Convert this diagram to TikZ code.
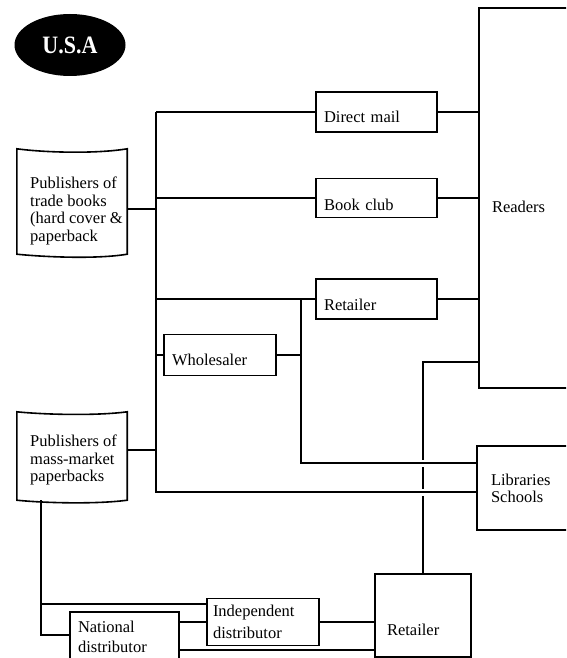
\documentclass[tikz,border=0pt]{standalone}
\usepackage{fontspec}
\setmainfont{Liberation Serif}
\usepackage{graphicx}
\usetikzlibrary{shapes.geometric}
\begin{document}
\begin{tikzpicture}[x=1pt,y=-1pt,
  ln/.style={line width=1.5pt},
  bx/.style={draw, line width=1.6pt, inner ysep=0pt, align=left, font=\fontsize{16.5}{17.5}\selectfont},
  txt/.style={inner sep=0pt, align=left, anchor=north west, font=\fontsize{16.5}{17.5}\selectfont},
  pagebox/.style={minimum width=110pt, inner sep=0pt},
  pageline/.style={line width=1.6pt}
]
\useasboundingbox (0,0) rectangle (566,658);
\clip (0,0) rectangle (566,658);

\node[ellipse, fill=black, minimum width=111pt, minimum height=62pt, inner sep=0pt, text=white,
  font=\bfseries\fontsize{25}{25}\selectfont] (usa) at (70,45) {\scalebox{0.88}[1]{U.S.A}};

% publishers (page-shaped boxes)
\node[pagebox, minimum height=105pt] (pubT) at (72,201.5) {};
\draw[pageline] (pubT.north west) .. controls +(30,4) and +(-30,5) .. (pubT.north east)
  -- (pubT.south east) .. controls +(-30,5) and +(30,3) .. (pubT.south west) -- cycle;
\node[txt] (pubTt) at (30,176.7) {Publishers of\\trade books\\(hard cover \&\\paperback};

\node[pagebox, minimum height=88pt] (pubM) at (72,456) {};
\draw[pageline] (pubM.north west) .. controls +(30,3) and +(-30,4) .. (pubM.north east)
  -- (pubM.south east) .. controls +(-30,4) and +(30,3) .. (pubM.south west) -- cycle;
\node[txt] (pubMt) at (30,434.7) {Publishers of\\mass-market\\paperbacks};

% channel boxes
\node[bx, minimum height=40pt, text width=105pt, inner xsep=8pt, text height=22pt, text depth=0pt] (dmail) at (376.5,112) {Direct mail};
\node[bx, minimum height=39pt, text width=105pt, inner xsep=8pt, text height=24pt, text depth=0pt] (bclub) at (376.5,198) {Book club};
\node[bx, minimum height=40pt, text width=105pt, inner xsep=8pt, text height=22pt, text depth=0pt] (ret1) at (376.5,299) {Retailer};
\node[bx, minimum height=41pt, text width=96pt, inner xsep=8pt, text height=20pt, text depth=0pt] (whole) at (220,355) {Wholesaler};
\node[bx, minimum height=380pt, text width=96pt, inner xsep=13pt, text height=28pt, text depth=0pt] (readers) at (540,198) {Readers};
\node[bx, minimum height=84pt, text width=95pt, inner xsep=14pt, font=\fontsize{16.5}{17}\selectfont] (lib) at (538.5,488) {Libraries\\Schools};
\node[bx, minimum height=83pt, text width=72pt, inner xsep=12pt, text height=39pt, text depth=0pt] (ret2) at (423,615.5) {Retailer};
\node[bx, minimum height=47pt, text width=100pt, inner xsep=6pt] (ind) at (263,622) {Independent\\[4pt]distributor};
\node[bx, minimum height=50pt, text width=93pt, inner xsep=8pt] (nat) at (124.5,637) {National\\[2.5pt]distributor};

% junction coordinates
\coordinate (tx) at (156,0);
\coordinate (jT) at (156,209);
\coordinate (jM) at (156,450);
\coordinate (jL) at (156,492);
\coordinate (vx) at (301,0);
\coordinate (jW) at (301,463);
\coordinate (jR) at (423,362);
\coordinate (lx) at (41,0);
\coordinate (jI) at (41,604);
\coordinate (jN) at (41,635);
\coordinate (jB) at (0,650);

% connectors
\draw[ln] (tx |- dmail.west) -- (jL) -- (lib.west |- jL);
\draw[ln] (tx |- dmail.west) -- (dmail.west);
\draw[ln] (tx |- bclub.west) -- (bclub.west);
\draw[ln] (tx |- ret1.west) -- (ret1.west);
\draw[ln] (tx |- whole.west) -- (whole.west);
\draw[ln] (pubT.east |- jT) -- (jT);
\draw[ln] (pubM.east |- jM) -- (jM);
\draw[ln] (dmail.east) -- (readers.west |- dmail.east);
\draw[ln] (bclub.east) -- (readers.west |- bclub.east);
\draw[ln] (ret1.east) -- (readers.west |- ret1.east);
\draw[ln] (vx |- ret1.west) -- (jW) -- (lib.west |- jW);
\draw[ln] (whole.east) -- (vx |- whole.east);
\draw[ln] (ret2.north) -- (ret2.north |- 0,495.5);
\draw[ln] (ret2.north |- 0,488.5) -- (ret2.north |- 0,466.5);
\draw[ln] (ret2.north |- 0,459.5) -- (jR) -- (readers.west |- jR);
\draw[ln] (pubM.south -| lx) -- (jN) -- (nat.west |- jN);
\draw[ln] (jI) -- (ind.west |- jI);
\draw[ln] (nat.east |- ind.west) -- (ind.west);
\draw[ln] (ind.east) -- (ret2.west |- ind.east);
\draw[ln] (nat.east |- jB) -- (ret2.west |- jB);
\end{tikzpicture}
\end{document}
